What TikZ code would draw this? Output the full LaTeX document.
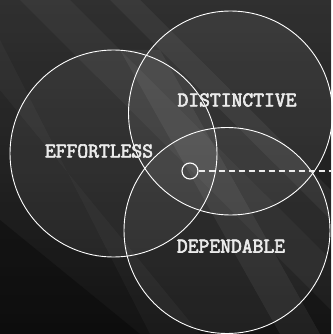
\documentclass[tikz,border=0pt]{standalone}
\usepackage{fontspec}
\newfontfamily\tagfont[FakeBold=3]{Latin Modern Mono}
\tikzset{
  ring/.style={draw=white, line width=0.9pt, fill=white, fill opacity=0.06},
  tag/.style={text=white!92!black, font=\tagfont\fontsize{21}{22}\selectfont, inner sep=0pt},
  streak/.style={fill=white, opacity=#1}
}
\begin{document}
\begin{tikzpicture}[x=1pt, y=-1pt]

	% backdrop
	\fill[black!85!white] (0,0) rectangle (331,334);
	\shade[top color=black!80!white, bottom color=black!94!white, opacity=0.8] (0,0) rectangle (331,334);
	\begin{scope}
		\clip (0,0) rectangle (331,334);
		\fill[streak=0.04] (20,0) -- (70,0) -- (331,260) -- (331,310) -- cycle;
		\fill[streak=0.05] (110,0) -- (140,0) -- (331,190) -- (331,220) -- cycle;
		\fill[streak=0.06] (120,50) -- (160,50) -- (320,334) -- (280,334) -- cycle;
		\fill[streak=0.03] (0,40) -- (0,90) -- (200,334) -- (150,334) -- cycle;
		\fill[black, opacity=0.3] (0,220) -- (0,334) -- (140,334) -- cycle;
	\end{scope}

	% three rings
	\filldraw[ring] (113.5,153.5) circle (103.5);
	\filldraw[ring] (230.5,113) circle (102);
	\filldraw[ring] (227,230.5) circle (103);

	\node[tag] (effortless) at (99,151) {EFFORTLESS};
	\node[tag] (distinctive) at (237,100) {DISTINCTIVE};
	\node[tag] (dependable) at (231,246) {DEPENDABLE};

	% marker and pointer
	\node[draw=white, line width=1.1pt, circle, minimum size=16pt, inner sep=0pt] (core) at (190,171) {};
	\coordinate (edge) at (331,171);
	\draw[white!92!black, line width=1.4pt, dash pattern=on 6.5pt off 3.5pt] (core.east) -- (edge);

	\useasboundingbox (0,0) rectangle (331,334);
\end{tikzpicture}
\end{document}
